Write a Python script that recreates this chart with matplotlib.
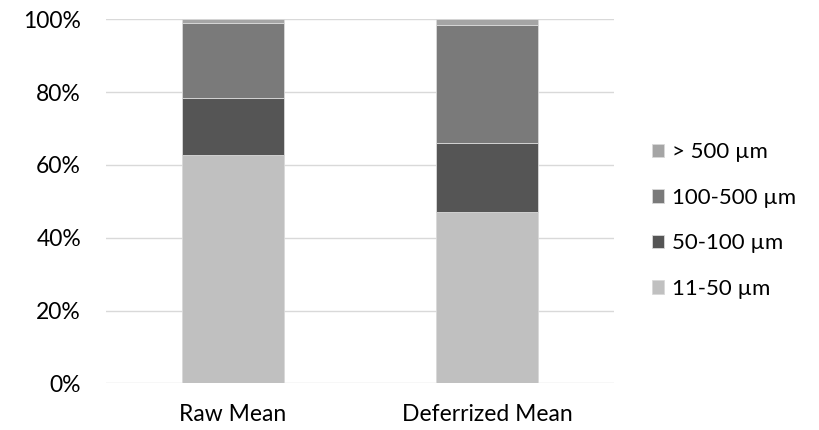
import numpy as np
import matplotlib.pyplot as plt

plt.rcParams['font.family'] = ['Lato', 'DejaVu Sans']

categories = ["Raw Mean", "Deferrized Mean"]
series_names = ["11-50 µm", "50-100 µm", "100-500 µm", "> 500 µm"]
# percentages per size class
s_11_50 = [62.6, 47.1]
s_50_100 = [15.8, 19.0]
s_100_500 = [20.5, 32.4]
s_500 = [1.1, 1.5]
colors = ["#c0c0c0", "#555555", "#7a7a7a", "#a5a5a5"]

fig = plt.figure(figsize=(8.2, 4.3), dpi=100)
ax = fig.add_axes([106 / 820, 1 - 383.3 / 430, (614 - 106) / 820, (383.3 - 19.3) / 430])

x = np.arange(len(categories))
bottom = np.zeros(len(categories))
handles = []
for vals, name, c in zip([s_11_50, s_50_100, s_100_500, s_500], series_names, colors):
    b = ax.bar(x, vals, width=0.4, bottom=bottom, color=c, edgecolor="#d9d9d9",
               linewidth=0.6, label=name, zorder=3)
    handles.append(b)
    bottom += np.array(vals)

ax.set_xlim(-0.5, 1.5)
ax.set_ylim(0, 100)
ax.set_yticks(np.arange(0, 101, 20))
ax.set_yticklabels([f"{v}%" for v in range(0, 101, 20)])
ax.set_xticks(x)
ax.set_xticklabels(categories)
ax.grid(axis="y", color="#d9d9d9", linewidth=1, zorder=0)
for s in ax.spines.values():
    s.set_visible(False)
ax.tick_params(length=0, labelsize=16.5, colors="#000000")
ax.tick_params(axis="y", pad=18)
ax.tick_params(axis="x", pad=15)

leg = ax.legend(handles[::-1], series_names[::-1], loc="center left",
                bbox_to_anchor=(1.035, 0.447), frameon=False, fontsize=16,
                handlelength=0.55, handleheight=0.55, handletextpad=0.35,
                labelspacing=1.15)

fig.savefig("out.png", dpi=100)
